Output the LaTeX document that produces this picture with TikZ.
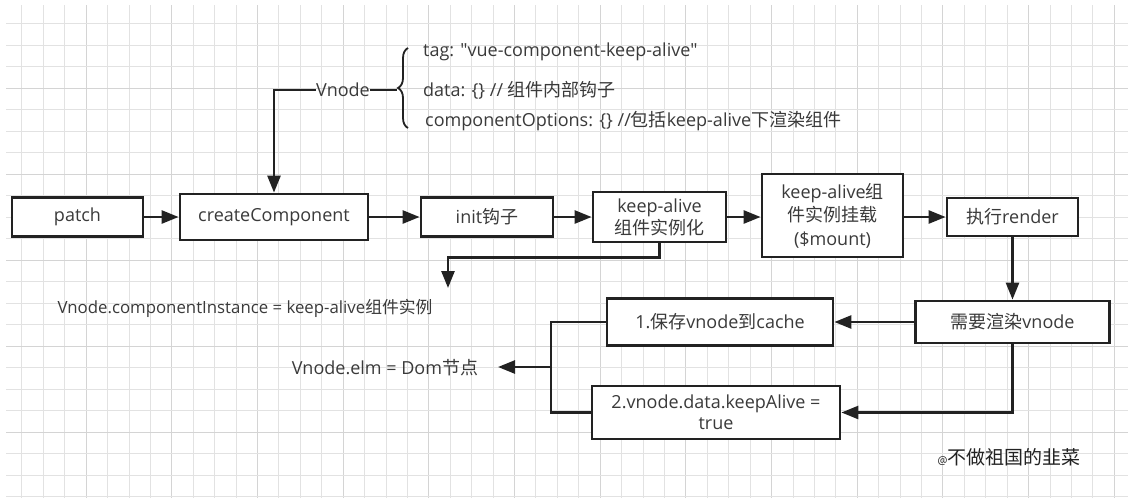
\documentclass[tikz,border=0pt]{standalone}
\usepackage{fontspec}
\setmainfont{Open Sans}
\newfontfamily\plainos{Open Sans}
\newfontfamily\cjk{Noto Sans CJK SC}
\usetikzlibrary{arrows.meta,decorations.pathreplacing}
\newcommand{\zh}[1]{{\cjk #1}}
\newcommand{\dq}{{\plainos\symbol{34}}}
\definecolor{ink}{HTML}{222222}
\definecolor{txt}{HTML}{3A3A3A}
\definecolor{gminor}{HTML}{E2E2E2}
\definecolor{gmajor}{HTML}{D4D4D4}
\tikzset{
  box/.style={draw=ink, line width=2.8pt, fill=white, text=txt, align=center,
    font=\fontsize{18}{22}\selectfont, inner sep=0pt},
  lbl/.style={text=txt, font=\fontsize{18}{22}\selectfont, inner sep=0pt},
  conn/.style={draw=ink, line width=2.6pt},
  arr/.style={conn, -{Triangle[length=17pt,width=13pt]}},
}
\begin{document}
\begin{tikzpicture}[x=1pt,y=-1pt]
\useasboundingbox (0,0) rectangle (1128,498);
\fill[white] (0,0) rectangle (1128,498);
% grid
\foreach \k in {1,...,52}{
  \pgfmathsetmacro{\gx}{round(\k*21.42)+0.5}
  \pgfmathtruncatemacro{\m}{mod(\k,4)}
  \ifnum\m=0 \draw[gmajor,line width=1pt] (\gx,5) -- (\gx,498);
  \else \draw[gminor,line width=1pt] (\gx,5) -- (\gx,498); \fi
}
\foreach \k in {1,...,23}{
  \pgfmathsetmacro{\gy}{round(1.5+\k*21.5)+0.5}
  \pgfmathtruncatemacro{\m}{mod(\k,4)}
  \ifnum\m=0 \draw[gmajor,line width=1pt] (6,\gy) -- (1128,\gy);
  \else \draw[gminor,line width=1pt] (6,\gy) -- (1128,\gy); \fi
}
% boxes
\node[box, minimum width=131pt, minimum height=39pt] (patch) at (77.5,217) {patch};
\node[box, minimum width=188pt, minimum height=46pt] (create) at (274,217) {createComponent};
\node[box, minimum width=132pt, minimum height=39pt] (init) at (487,217) {init\zh{钩子}};
\node[box, minimum width=133pt, minimum height=50pt] (keep) at (659.5,217) {keep-alive\\\zh{组件实例化}};
\node[box, minimum width=141pt, minimum height=83pt, font=\fontsize{18}{23.5}\selectfont] (mount) at (832.5,215.5) {keep-alive\zh{组}\\\zh{件实例挂载}\\(\$mount)};
\node[box, minimum width=131pt, minimum height=38pt] (render) at (1012.5,217) {\zh{执行}render};
\node[box, minimum width=194pt, minimum height=42pt] (need) at (1012.5,322) {\zh{需要渲染}vnode};
\node[box, minimum width=226pt, minimum height=47pt] (cache) at (720,322) {1.\zh{保存}vnode\zh{到}cache};
\node[box, minimum width=248pt, minimum height=53pt, font=\fontsize{18}{21}\selectfont] (ka) at (716,412.5) {2.vnode.data.keepAlive =\\true};
% labels
\node[lbl] (vnode) at (343,90) {Vnode};
\node[lbl, anchor=west] (tag) at (423,52) {tag: \dq vue-component-keep-alive\dq};
\node[lbl, anchor=west] (data) at (423,90) {data: \{\} // \zh{组件内部钩子}};
\node[lbl, anchor=west] (opts) at (425,121) {componentOptions: \{\} //\zh{包括}keep-alive\zh{下渲染组件}};
\node[lbl, font=\fontsize{16.8}{20}\selectfont] (ci) at (245,308) {Vnode.componentInstance = keep-alive\zh{组件实例}};
\node[lbl] (elm) at (385,368) {Vnode.elm = Dom\zh{节点}};
\node[text=ink, inner sep=0pt, font=\fontsize{19}{22}\selectfont] (sig) at (1009,457) {{\fontsize{11}{12}\selectfont @}\zh{不做祖国的韭菜}};
\coordinate (citip) at (448,288);
\coordinate (elmtip) at (498,367);
\coordinate (join) at (551,367);
\coordinate (bracetip) at (397,90);
% brace
\draw[ink, line width=1.8pt, decorate, decoration={brace, amplitude=10pt}] (408,128) -- (408,48);
% connectors
\draw[conn] (vnode.east) -- (bracetip);
\draw[arr] (vnode.west) -| (create.north);
\draw[arr] (patch.east) -- (create.west);
\draw[arr] (create.east) -- (init.west);
\draw[arr] (init.east) -- (keep.west);
\draw[arr] (keep.east) -- (keep.east -| mount.west);
\draw[arr] (keep.east -| mount.east) -- (render.west);
\draw[arr] (render.south) -- (need.north);
\draw[arr] (need.west) -- (cache.east);
\draw[arr] (need.south) |- (ka.east);
\draw[arr] (keep.south) -- ++(0,14) -| (citip);
\draw[conn] (cache.west) -| (join) |- (ka.west);
\draw[arr] (join) -- (elmtip);
\end{tikzpicture}
\end{document}
